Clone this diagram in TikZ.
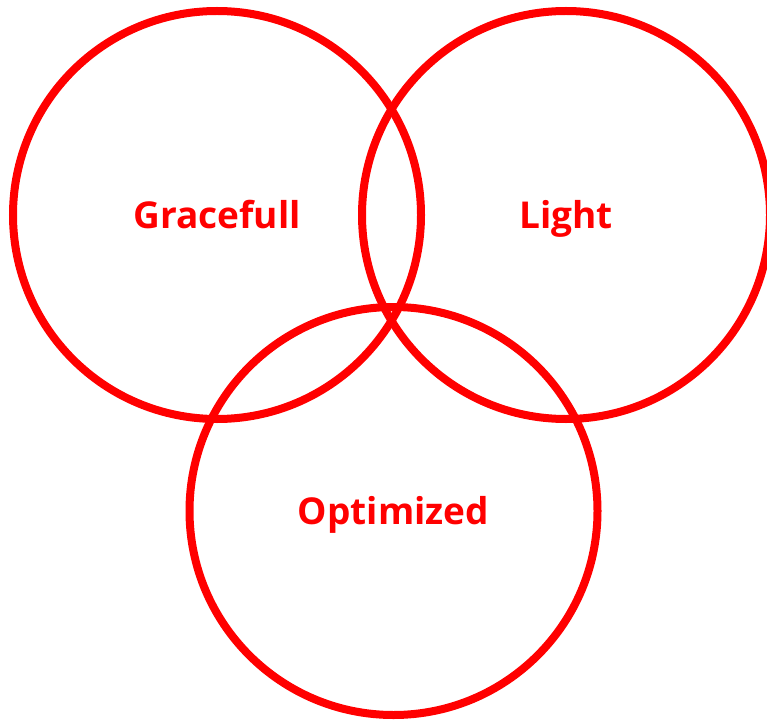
\documentclass[tikz,border=0pt]{standalone}
\usepackage{fontspec}
\setmainfont{Open Sans}
\usepackage{tikz}
\usetikzlibrary{positioning}
\definecolor{ringred}{RGB}{255,0,0}

\begin{document}
\begin{tikzpicture}[
    x=1pt, y=1pt,
    ring/.style={draw=ringred, circle, line width=8pt, minimum size=408pt, inner sep=0pt, text=ringred, text height=26pt, text depth=0pt, font=\fontsize{37}{44}\selectfont\bfseries}
]
    \useasboundingbox (0,0) rectangle (767,-719);
    \node[ring] (grace) at (217,-215) {Gracefull};
    \node[ring] (light) at (566,-215) {Light};
    \node[ring] (optim) at (393.5,-511) {Optimized};
\end{tikzpicture}
\end{document}
